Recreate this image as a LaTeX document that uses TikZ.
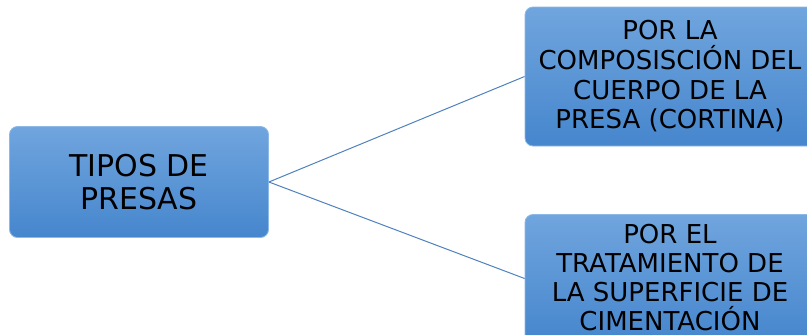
\documentclass[tikz,border=0pt]{standalone}
\usepackage{fontspec}
\setmainfont{DejaVu Sans}
\begin{document}
\definecolor{boxtop}{RGB}{112,165,222}
\definecolor{boxbot}{RGB}{70,134,205}
\definecolor{boxrim}{RGB}{140,185,230}
\definecolor{linkblue}{RGB}{79,129,189}
\begin{tikzpicture}[x=1pt,y=-1pt,
  topic/.style={rounded corners=8pt, top color=boxtop, bottom color=boxbot,
    draw=boxrim, line width=0.8pt, inner sep=0pt, align=center, text=black},
  link/.style={draw=linkblue, line width=1pt}]
  \useasboundingbox (0,0) rectangle (807,335);
  \clip (0,0) rectangle (807,335);
  % root topic
  \node[topic, minimum width=259pt, minimum height=111pt,
        font=\fontsize{30}{32.7}\selectfont] (root) at (139,182)
        {TIPOS DE\\PRESAS};
  % branches
  \node[topic, minimum width=290pt, minimum height=139pt,
        font=\fontsize{26}{29.7}\selectfont] (body) at (670,76.5)
        {POR LA\\COMPOSISCIÓN DEL\\CUERPO DE LA\\PRESA (CORTINA)};
  \node[topic, minimum width=290pt, minimum height=128pt,
        font=\fontsize{26}{28.8}\selectfont] (found) at (670,278.5)
        {POR EL\\TRATAMIENTO DE\\LA SUPERFICIE DE\\CIMENTACIÓN\rule[-2pt]{0pt}{0pt}};
  % connectors
  \draw[link] (root.east) -- (body.west);
  \draw[link] (root.east) -- (found.west);
\end{tikzpicture}
\end{document}
